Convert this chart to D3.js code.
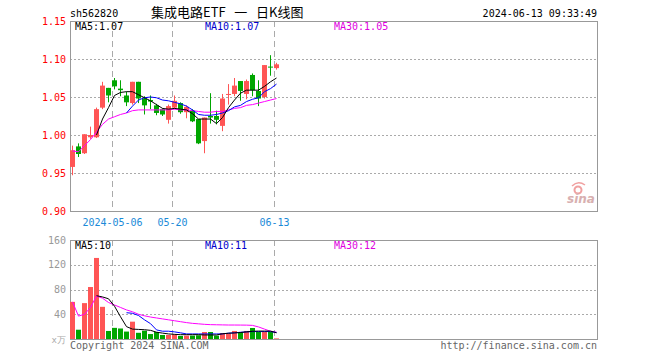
<!DOCTYPE html>
<html>
<head>
<meta charset="utf-8">
<script src="https://cdn.jsdelivr.net/npm/d3@7"></script>
<style>
body { margin: 0; background: #fff; }
text { font-family: "DejaVu Sans Mono", monospace; font-size: 10px; }
</style>
</head>
<body>
<svg id="chart" width="660" height="360"></svg>
<script>
// data ************************************************************************
var dates = ["04-22","04-23","04-24","04-25","04-26","04-29","04-30","05-06","05-07","05-08",
             "05-09","05-10","05-13","05-14","05-15","05-16","05-17","05-20","05-21","05-22",
             "05-23","05-24","05-27","05-28","05-29","05-30","05-31","06-03","06-04","06-05",
             "06-06","06-07","06-11","06-12","06-13"]
var openP  = [0.958,0.985,0.976,0.997,0.997,1.036,1.062,1.072,1.061,1.052,
              1.042,1.070,1.048,1.046,1.039,1.034,1.020,1.036,1.042,1.030,
              1.032,1.021,0.992,1.025,1.025,1.012,1.053,1.054,1.071,1.054,
              1.079,1.058,1.050,1.090,1.088]
var highP  = [0.986,0.989,1.001,1.011,1.036,1.070,1.062,1.075,1.072,1.057,
              1.070,1.070,1.051,1.052,1.041,1.035,1.040,1.052,1.043,1.039,
              1.034,1.021,1.023,1.055,1.032,1.054,1.067,1.075,1.071,1.073,
              1.081,1.072,1.092,1.105,1.095]
var lowP   = [0.947,0.971,0.975,0.995,0.996,1.034,1.043,1.060,1.051,1.038,
              1.040,1.042,1.027,1.034,1.026,1.025,1.015,1.034,1.028,1.022,
              1.017,0.988,0.976,1.015,1.014,1.005,1.040,1.051,1.045,1.047,
              1.051,1.038,1.048,1.078,1.086]
var closeP = [0.980,0.975,1.001,1.000,1.034,1.065,1.052,1.064,1.059,1.043,
              1.070,1.048,1.039,1.044,1.029,1.027,1.038,1.045,1.030,1.037,
              1.018,0.989,1.023,1.023,1.020,1.048,1.054,1.065,1.058,1.071,
              1.059,1.048,1.092,1.089,1.093]
var ma5P  = [null,null,null,null,1.000,1.021,1.036,1.052,1.056,1.057,
             1.057,1.053,1.049,1.045,1.040,1.035,1.034,1.035,1.034,1.033,
             1.028,1.021,1.021,1.021,1.015,1.023,1.036,1.046,1.055,1.059,
             1.059,1.059,1.064,1.070,1.075]
var ma10P = [null,null,null,null,null,null,null,null,null,1.029,
             1.038,1.046,1.049,1.050,1.049,1.046,1.045,1.043,1.041,1.038,
             1.033,1.027,1.026,1.026,1.027,1.029,1.032,1.037,1.039,1.044,
             1.047,1.049,1.057,1.061,1.067]
var ma30P = [0.979,0.978,0.986,0.994,1.004,1.014,1.021,1.024,1.027,1.029,
             1.032,1.033,1.033,1.033,1.033,1.033,1.033,1.034,1.033,1.033,
             1.032,1.031,1.030,1.030,1.031,1.031,1.033,1.035,1.036,1.039,
             1.040,1.042,1.044,1.046,1.048]

var vol   = [60,15,58,84,131,52,13,18,17,12,
             28,10,13.4,8,11.3,6.5,6.5,7.5,5,5.5,
             5.5,6,11.3,11.3,5.5,9.7,9.2,13,11.3,13,
             17.8,11.3,11.3,11.3,1]
var volMa5  = [null,null,null,null,70,68,65,53,36,20,
               16,15.5,15,14,11,9.5,8.2,7.5,7,7,
               7,7,6.5,6.5,6.5,8.5,9.3,9.8,10.5,11.5,
               12.5,12.8,12.8,12.8,10]
var volMa10 = [null,null,null,null,null,null,null,null,null,42.5,
               41.5,38,31,24.8,14.7,12.6,12.6,11.5,10,8.2,
               8.2,8.2,8.2,8.2,8.2,8.2,9.4,10,10.9,11.5,
               12,12,12,12,10.5]
var volMa30 = [60,37,40,51,69.5,66,59,55,51,47,
               44,40,37.5,35.5,34,32.5,31,29.5,28,26.5,
               25.3,24.5,23.7,23.2,23,22.8,22.6,22.6,22.5,22.4,
               22,19.5,16,12.5,11]

var priceTicks = [1.15, 1.10, 1.05, 1.00, 0.95, 0.90]
var volTicks = [160, 120, 80, 40]
var dateTicks = ["05-06", "05-20", "06-13"]
var dateTickLabels = ["2024-05-06", "05-20", "06-13"]

// layout ***********************************************************************
var svg = d3.select("#chart")
var left = 70, right = 597
var priceTop = 21, priceBottom = 211
var volTop = 240, volBottom = 339

var upCol = "#ff5555", downCol = "#00a600"

var x = d3.scalePoint().domain(dates).range([72.5, 72.5 + 6 * (dates.length - 1)])
var y = d3.scaleLinear().domain([0.90, 1.15]).range([priceBottom, priceTop])
var vy = d3.scaleLinear().domain([0, 160]).range([volBottom, volTop])

// header
svg.append("text").attr("x", 70).attr("y", 17).text("sh562820").style("fill", "#000")
svg.append("text").attr("x", 151).attr("y", 17).text("集成电路ETF   一   日K线图")
    .style("white-space", "pre")
    .style("font-family", "'Noto Sans CJK SC', sans-serif").style("font-size", "13px").style("fill", "#000")
svg.append("text").attr("x", right).attr("y", 17).attr("text-anchor", "end")
    .text("2024-06-13 09:33:49").style("fill", "#000")

// grids and frames
function panel(top, bottom, gridVals, scale) {
    gridVals.forEach(function (v) {
        svg.append("line").attr("x1", left).attr("x2", right)
            .attr("y1", Math.round(scale(v)) + 0.5).attr("y2", Math.round(scale(v)) + 0.5)
            .style("stroke", "#aaa").style("stroke-dasharray", "2,2")
    })
    dateTicks.forEach(function (d) {
        svg.append("line").attr("x1", x(d) - 2).attr("x2", x(d) - 2)
            .attr("y1", top).attr("y2", bottom)
            .style("stroke", "#aaa").style("stroke-dasharray", "6,4")
    })
    svg.append("rect").attr("x", left + 0.5).attr("y", top + 0.5)
        .attr("width", right - left).attr("height", bottom - top)
        .style("fill", "none").style("stroke", "#999")
}
panel(priceTop, priceBottom, [1.10, 1.05, 1.00, 0.95], y)
panel(volTop, volBottom, [120, 80, 40], vy)

// price axis labels
var yAxis = svg.append("g").attr("transform", "translate(" + left + ",0)")
    .call(d3.axisLeft(y).tickValues(priceTicks).tickSize(0).tickPadding(4).tickFormat(d3.format(".2f")))
yAxis.select(".domain").remove()
yAxis.selectAll("text").style("fill", "#f00").style("font-family", "'DejaVu Sans Mono', monospace").style("font-size", "10px")

// volume axis labels
var vAxis = svg.append("g").attr("transform", "translate(" + left + ",0)")
    .call(d3.axisLeft(vy).tickValues(volTicks).tickSize(0).tickPadding(4))
vAxis.select(".domain").remove()
vAxis.selectAll("text").style("fill", "#999").style("font-family", "'DejaVu Sans Mono', monospace").style("font-size", "10px")
svg.append("text").attr("x", 66).attr("y", 343).attr("text-anchor", "end").text("x万")
    .style("fill", "#aaa").style("font-size", "9px")

// date labels
dateTicks.forEach(function (d, i) {
    svg.append("text").attr("x", x(d) - 2).attr("y", 226).attr("text-anchor", "middle")
        .text(dateTickLabels[i]).style("fill", "#1a8ad8")
})

// candles
dates.forEach(function (d, i) {
    var col = closeP[i] >= openP[i] ? upCol : downCol
    var cx = x(d)
    svg.append("line").attr("x1", cx).attr("x2", cx)
        .attr("y1", y(highP[i])).attr("y2", y(lowP[i])).style("stroke", col)
    var top = y(Math.max(openP[i], closeP[i])), bot = y(Math.min(openP[i], closeP[i]))
    svg.append("rect").attr("x", cx - 2.5).attr("y", top)
        .attr("width", 5).attr("height", Math.max(1, bot - top)).style("fill", col)
    // volume bar
    svg.append("rect").attr("x", cx - 2.5).attr("y", vy(vol[i]))
        .attr("width", 5).attr("height", volBottom - vy(vol[i])).style("fill", col)
})

// moving average lines
function maLine(vals, scale, col) {
    var line = d3.line().defined(function (v) { return v != null })
        .x(function (v, i) { return x(dates[i]) }).y(function (v) { return scale(v) })
    svg.append("path").datum(vals).attr("d", line)
        .style("fill", "none").style("stroke", col).style("stroke-width", 1)
}
maLine(ma30P, y, "#ff00ff")
maLine(ma10P, y, "#0000ff")
maLine(ma5P, y, "#000")
maLine(volMa30, vy, "#ff00ff")
maLine(volMa10, vy, "#0000ff")
maLine(volMa5, vy, "#000")

// legends
svg.append("text").attr("x", 75).attr("y", 30).text("MA5:1.07").style("fill", "#000")
svg.append("text").attr("x", 205).attr("y", 30).text("MA10:1.07").style("fill", "#0000cc")
svg.append("text").attr("x", 334).attr("y", 30).text("MA30:1.05").style("fill", "#e000e0")
svg.append("text").attr("x", 75).attr("y", 249).text("MA5:10").style("fill", "#000")
svg.append("text").attr("x", 205).attr("y", 249).text("MA10:11").style("fill", "#0000cc")
svg.append("text").attr("x", 334).attr("y", 249).text("MA30:12").style("fill", "#e000e0")

// footer
svg.append("text").attr("x", 70).attr("y", 349).text("Copyright 2024 SINA.COM").style("fill", "#666")
svg.append("text").attr("x", right).attr("y", 349).attr("text-anchor", "end")
    .text("http://finance.sina.com.cn").style("fill", "#666")

// sina watermark
svg.append("circle").attr("cx", 578).attr("cy", 190).attr("r", 3.5)
    .style("fill", "none").style("stroke", "#f0a0a0").style("stroke-width", 2)
svg.append("path").attr("d", "M572,186 Q578,180 585,185").style("fill", "none").style("stroke", "#f0a0a0").style("stroke-width", 1.5)
svg.append("text").attr("x", 567).attr("y", 203).text("sina")
    .style("font-family", "'DejaVu Sans', sans-serif").style("font-size", "12px")
    .style("font-style", "italic").style("font-weight", "bold").style("fill", "#d8b0b0")
</script>
</body>
</html>
